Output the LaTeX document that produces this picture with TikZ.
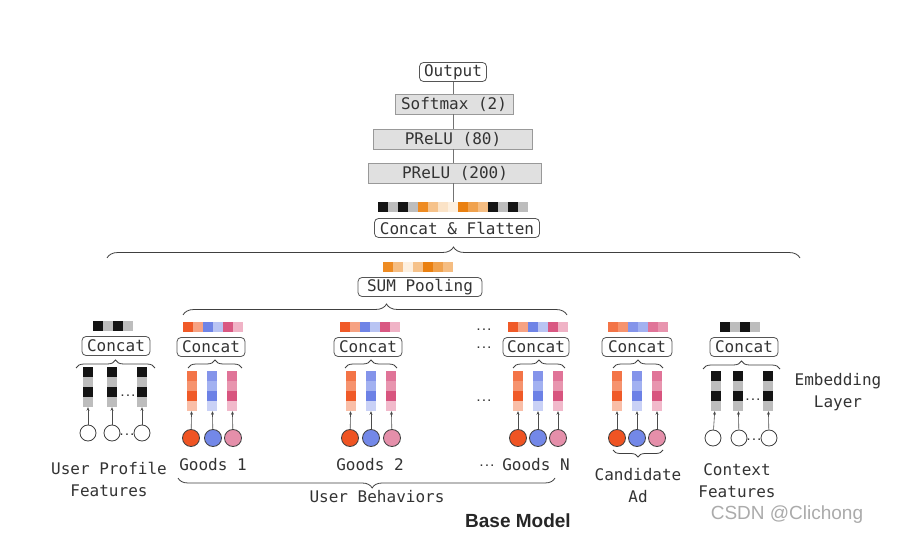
\documentclass[tikz,border=0pt]{standalone}
\usepackage{fontspec}
\setmonofont{DejaVu Sans Mono}
\setsansfont{Liberation Sans}
\usetikzlibrary{decorations.pathreplacing,arrows.meta}
\definecolor{txt}{HTML}{333333}
\definecolor{boxc}{HTML}{555555}
\definecolor{K}{HTML}{141414}
\definecolor{G}{HTML}{BDBDBD}
\definecolor{R1}{HTML}{F05A28}
\definecolor{R2}{HTML}{F6A283}
\definecolor{B1}{HTML}{6F84E6}
\definecolor{B2}{HTML}{B9C4F3}
\definecolor{P1}{HTML}{D95882}
\definecolor{P2}{HTML}{F0B3C6}
\definecolor{ra}{HTML}{F37447}
\definecolor{rb}{HTML}{F6936E}
\definecolor{rc}{HTML}{F05A28}
\definecolor{rd}{HTML}{F9BEA7}
\definecolor{ba}{HTML}{8494EA}
\definecolor{bb}{HTML}{A2B1F1}
\definecolor{bc}{HTML}{6C81E6}
\definecolor{bd}{HTML}{C9D1F6}
\definecolor{pa}{HTML}{E07498}
\definecolor{pb}{HTML}{E895AF}
\definecolor{pc}{HTML}{D8557F}
\definecolor{pd}{HTML}{F1B9CB}
\definecolor{O1}{HTML}{EE8B22}
\definecolor{O2}{HTML}{F6C28A}
\definecolor{O3}{HTML}{FBE3C7}
\definecolor{O4}{HTML}{FDF0E0}
\definecolor{O5}{HTML}{EA8010}
\definecolor{O6}{HTML}{F0A24E}
\definecolor{O7}{HTML}{F5BD82}
\definecolor{cR}{HTML}{EF5423}
\definecolor{cB}{HTML}{7388E8}
\definecolor{cP}{HTML}{E58FAA}
\newcommand\cellbar[5]{% name, x-left, y-top, n, colours
  \foreach \c [count=\i from 0] in {#5} {\fill[fill=\c] ({#2+10*\i},#3) rectangle ++(10,10);}
  \node[cellnode, minimum width={10*#4}, minimum height=10] (#1) at ({#2+5*#4},{#3+5}) {};
}
\newcommand\ecol[4]{% name, x-centre, y-top, colours
  \foreach \c [count=\i from 0] in {#4} {\fill[fill=\c] ({#2-5},{#3+10*\i}) rectangle ++(10,10);}
  \node[cellnode, minimum width=10, minimum height=40] (#1) at (#2,{#3+20}) {};
}
\begin{document}
\begin{tikzpicture}[x=1pt,y=-1pt,
  font=\ttfamily\fontsize{16}{19}\selectfont,
  cellnode/.style={inner sep=0pt, draw=none},
  lbl/.style={text=txt, inner sep=0pt},
  rbox/.style={draw=boxc, rounded corners=4pt, fill=white, line width=0.8pt, minimum height=19pt, inner xsep=4pt, inner ysep=0pt, text=txt},
  gbox/.style={draw=black!40, fill=black!12, line width=0.6pt, minimum height=20pt, inner ysep=0pt, text=txt},
  conn/.style={draw=black!55, line width=0.8pt},
  arr/.style={draw=black!70, line width=0.6pt, -{Stealth[length=3.5pt,width=3pt]}},
  brc/.style={draw=black!75, line width=0.8pt, decorate, decoration={brace, amplitude=#1}},
  brc/.default=8pt,
  dots/.style={text=black!80, inner sep=0pt, font=\ttfamily\bfseries\fontsize{9}{9}\selectfont},
  wcirc/.style={circle, draw=black!75, line width=0.8pt, fill=white, minimum size=16pt, inner sep=0pt},
  ccirc/.style={circle, draw=black!75, line width=0.8pt, fill=#1, minimum size=17pt, inner sep=0pt}]
\fill[white] (0,0) rectangle (898,548);
\useasboundingbox (0,0) rectangle (898,548);

% ---- top stack
\cellbar{fbar}{378}{202}{15}{K,G,K,G,O1,O2,O3,O4,O5,O6,O7,K,G,K,G}
\node[rbox, minimum width=67] (out) at (453,72) {Output};
\node[gbox, minimum width=118] (sm) at (454,104) {Softmax (2)};
\node[gbox, minimum width=159] (p80) at (453,139) {PReLU (80)};
\node[gbox, minimum width=173] (p200) at (455,173) {PReLU (200)};
\draw[conn] (out.south) -- (out.south |- sm.north);
\draw[conn] (out.south |- sm.south) -- (out.south |- p80.north);
\draw[conn] (out.south |- p80.south) -- (out.south |- p200.north);
\draw[conn] (out.south |- p200.south) -- (out.south |- fbar.north);
\node[rbox, minimum width=165] (cf) at (457,228) {Concat \& Flatten};
\draw[brc=11pt] (107,258) -- (800,258);

% ---- SUM pooling
\cellbar{sbar}{383}{262}{7}{O1,O7,O4,O2,O5,O6,O7}
\node[rbox, minimum width=124] (sp) at (420,287) {SUM Pooling};
\draw[brc=11pt, decoration={aspect=0.53}] (183,315) -- (567,315);

% ---- User profile
\cellbar{ubar}{93}{321}{4}{K,G,K,G}
\node[rbox, minimum width=68] (uc) at (116,346) {Concat};
\draw[brc] (76,368) -- (155,368);
\ecol{ucol1}{88}{367}{K,G,K,G}
\ecol{ucol2}{112}{367}{K,G,K,G}
\ecol{ucol3}{142}{367}{K,G,K,G}
\node[dots] (ud1) at (128,396) {...};
\node[wcirc] (uc1) at (88,433) {};
\node[wcirc] (uc2) at (112,433) {};
\node[wcirc] (uc3) at (142,433) {};
\node[dots] (ud2) at (127,435) {...};
\draw[arr] (uc1) -- (ucol1);
\draw[arr] (uc2) -- (ucol2);
\draw[arr] (uc3) -- (ucol3);
\node[lbl] (ulab1) at (109,468) {User Profile};
\node[lbl] (ulab2) at (109,491) {Features};

% ---- Goods 1
\cellbar{g1bar}{183}{322}{6}{R1,R2,B1,B2,P1,P2}
\node[rbox, minimum width=68] (g1c) at (211,347) {Concat};
\draw[brc] (188,368) -- (242,368);
\ecol{g1col1}{192}{371}{ra,rb,rc,rd}
\ecol{g1col2}{212}{371}{ba,bb,bc,bd}
\ecol{g1col3}{232}{371}{pa,pb,pc,pd}
\node[ccirc=cR] (g1c1) at (191,438) {};
\node[ccirc=cB] (g1c2) at (213,438) {};
\node[ccirc=cP] (g1c3) at (233,438) {};
\draw[arr] (g1c1) -- (g1col1);
\draw[arr] (g1c2) -- (g1col2);
\draw[arr] (g1c3) -- (g1col3);
\node[lbl] (g1lab) at (213,465) {Goods 1};

% ---- Goods 2
\cellbar{g2bar}{340}{322}{6}{R1,R2,B1,B2,P1,P2}
\node[rbox, minimum width=68] (g2c) at (368,347) {Concat};
\draw[brc] (345,368) -- (397,368);
\ecol{g2col1}{351}{371}{ra,rb,rc,rd}
\ecol{g2col2}{371}{371}{ba,bb,bc,bd}
\ecol{g2col3}{391}{371}{pa,pb,pc,pd}
\node[ccirc=cR] (g2c1) at (350,438) {};
\node[ccirc=cB] (g2c2) at (371,438) {};
\node[ccirc=cP] (g2c3) at (392,438) {};
\draw[arr] (g2c1) -- (g2col1);
\draw[arr] (g2c2) -- (g2col2);
\draw[arr] (g2c3) -- (g2col3);
\node[lbl] (g2lab) at (370,465) {Goods 2};

% ---- dots between
\node[dots] (md1) at (484,330) {...};
\node[dots] (md2) at (484,348) {...};
\node[dots] (md3) at (484,401) {...};
\node[dots] (md4) at (487,466) {...};

% ---- Goods N
\cellbar{gnbar}{508}{322}{6}{R1,R2,B1,B2,P1,P2}
\node[rbox, minimum width=66] (gnc) at (536,347) {Concat};
\draw[brc] (513,368) -- (565,368);
\ecol{gncol1}{518}{371}{ra,rb,rc,rd}
\ecol{gncol2}{538}{371}{ba,bb,bc,bd}
\ecol{gncol3}{558}{371}{pa,pb,pc,pd}
\node[ccirc=cR] (gnc1) at (518,438) {};
\node[ccirc=cB] (gnc2) at (538,438) {};
\node[ccirc=cP] (gnc3) at (558,438) {};
\draw[arr] (gnc1) -- (gncol1);
\draw[arr] (gnc2) -- (gncol2);
\draw[arr] (gnc3) -- (gncol3);
\node[lbl] (gnlab) at (536,465) {Goods N};

\draw[brc=10pt, decoration={aspect=0.485}] (555,478) -- (178,478);
\node[lbl] (ublab) at (377,497) {User Behaviors};

% ---- Candidate Ad
\cellbar{cabar}{608}{322}{6}{ra,rb,ba,bb,pa,pb}
\node[rbox, minimum width=70] (cac) at (637,347) {Concat};
\draw[brc] (613,368) -- (663,368);
\ecol{cacol1}{617}{371}{ra,rb,rc,rd}
\ecol{cacol2}{637}{371}{ba,bb,bc,bd}
\ecol{cacol3}{657}{371}{pa,pb,pc,pd}
\node[ccirc=cR] (cac1) at (617,438) {};
\node[ccirc=cB] (cac2) at (637,438) {};
\node[ccirc=cP] (cac3) at (657,438) {};
\draw[arr] (cac1) -- (cacol1);
\draw[arr] (cac2) -- (cacol2);
\draw[arr] (cac3) -- (cacol3);
\draw[brc=7pt] (663,450) -- (613,450);
\node[lbl] (calab1) at (638,475) {Candidate};
\node[lbl] (calab2) at (638,497) {Ad};

% ---- Context
\cellbar{cxbar}{720}{322}{4}{K,G,K,G}
\node[rbox, minimum width=68] (cxc) at (744,347) {Concat};
\draw[brc] (703,369) -- (780,369);
\ecol{cxcol1}{716}{371}{K,G,K,G}
\ecol{cxcol2}{738}{371}{K,G,K,G}
\ecol{cxcol3}{768}{371}{K,G,K,G}
\node[dots] (cxd1) at (753,400) {...};
\node[wcirc] (cxc1) at (713,438) {};
\node[wcirc] (cxc2) at (739,438) {};
\node[wcirc] (cxc3) at (769,438) {};
\node[dots] (cxd2) at (754,440) {...};
\draw[arr] (cxc1) -- (cxcol1);
\draw[arr] (cxc2) -- (cxcol2);
\draw[arr] (cxc3) -- (cxcol3);
\node[lbl] (cxlab1) at (737,470) {Context};
\node[lbl] (cxlab2) at (737,492) {Features};

% ---- side labels
\node[lbl] (emb1) at (838,381) {Embedding};
\node[lbl] (emb2) at (838,403) {Layer};
\node[lbl, font=\sffamily\bfseries\fontsize{19}{22}\selectfont, text=black!85] (bm) at (518,521) {Base Model};
\node[lbl, font=\sffamily\fontsize{19}{22}\selectfont, text=black!33] (wm) at (787,515) {CSDN @Clichong};
\end{tikzpicture}
\end{document}
